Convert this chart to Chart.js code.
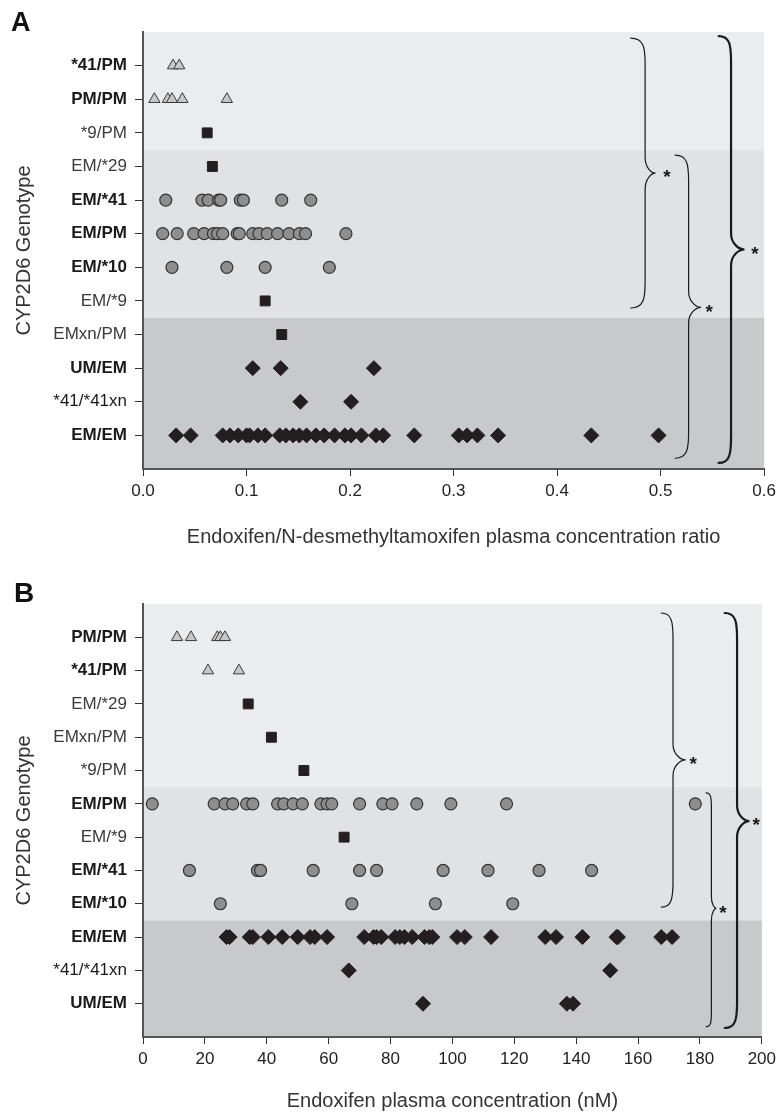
<!DOCTYPE html>
<html><head><meta charset="utf-8">
<script src="https://cdn.jsdelivr.net/npm/chart.js@4.4.0/dist/chart.umd.min.js"></script>
<style>html,body{margin:0;padding:0;background:#fff;}canvas{display:block;}</style>
</head><body>
<canvas id="cA" width="781" height="560"></canvas>
<canvas id="cB" width="781" height="553"></canvas>
<script>
// ---------- Panel A data: Endoxifen/N-desmethyltamoxifen ratio ----------
const catsA = ['*41/PM','PM/PM','*9/PM','EM/*29','EM/*41','EM/PM','EM/*10','EM/*9','EMxn/PM','UM/EM','*41/*41xn','EM/EM'];
const ratio_41PM = [0.029, 0.035];
const ratio_PMPM = [0.011, 0.024, 0.028, 0.038, 0.081];
const ratio_9PM = [0.062];
const ratio_EM29 = [0.067];
const ratio_EM41 = [0.022, 0.057, 0.063, 0.073, 0.075, 0.094, 0.097, 0.134, 0.162];
const ratio_EMPM = [0.019, 0.033, 0.049, 0.059, 0.068, 0.072, 0.077, 0.091, 0.093, 0.106, 0.112, 0.120, 0.130, 0.141, 0.151, 0.157, 0.196];
const ratio_EM10 = [0.028, 0.081, 0.118, 0.180];
const ratio_EM9 = [0.118];
const ratio_EMxnPM = [0.134];
const ratio_UMEM = [0.106, 0.133, 0.223];
const ratio_41_41xn = [0.152, 0.201];
const ratio_EMEM = [0.032, 0.046, 0.077, 0.084, 0.092, 0.100, 0.103, 0.111, 0.118, 0.132, 0.138, 0.145, 0.151, 0.158, 0.167, 0.175, 0.185, 0.195, 0.201, 0.211, 0.225, 0.232, 0.262, 0.305, 0.313, 0.323, 0.343, 0.433, 0.498];
const ticksA = [0, 0.1, 0.2, 0.3, 0.4, 0.5, 0.6];

// ---------- Panel B data: Endoxifen plasma concentration (nM) ----------
const catsB = ['PM/PM','*41/PM','EM/*29','EMxn/PM','*9/PM','EM/PM','EM/*9','EM/*41','EM/*10','EM/EM','*41/*41xn','UM/EM'];
const conc_PMPM = [11, 15.5, 24, 25, 26.5];
const conc_41PM = [21, 31];
const conc_EM29 = [34];
const conc_EMxnPM = [41.5];
const conc_9PM = [52];
const conc_EMPM = [3, 23, 26.5, 29, 33.5, 35.5, 43.5, 45.5, 48.5, 51.5, 57.5, 59.5, 61, 70, 77.5, 80.5, 88.5, 99.5, 117.5, 178.5];
const conc_EM9 = [65];
const conc_EM41 = [15, 37, 38, 55, 70, 75.5, 97, 111.5, 128, 145];
const conc_EM10 = [25, 67.5, 94.5, 119.5];
const conc_EMEM = [27, 28, 34.5, 35.5, 40.5, 45, 50, 54, 55.5, 59.5, 71.5, 74.5, 75.5, 77, 81.5, 83, 84.5, 87, 91, 92.5, 93.5, 101.5, 104, 112.5, 130, 133.5, 142, 153, 153.5, 167.5, 171];
const conc_41_41xn = [66.5, 151];
const conc_UMEM = [90.5, 137, 139];
const ticksB = [0, 20, 40, 60, 80, 100, 120, 140, 160, 180, 200];

// significance braces (data units: x value, y category position)
const bracesA = [
  {spine:0.485, hook:0.471, tip:0.495, top:0.18, mid:4.2, bot:8.21, star:0.506},
  {spine:0.527, hook:0.514, tip:0.539, top:3.66, mid:8.19, bot:12.68, star:0.547},
  {spine:0.568, hook:0.556, tip:0.581, top:0.12, mid:6.47, bot:12.82, star:0.591, thick:true}
];
const bracesB = [
  {spine:171.3, hook:167.5, tip:175.4, top:0.27, mid:4.68, bot:9.1, star:177.8},
  {spine:183.7, hook:182.0, tip:185.3, top:5.67, mid:9.14, bot:12.69, star:187.4, thin:true},
  {spine:192.0, hook:188.0, tip:196.0, top:0.27, mid:6.52, bot:12.73, star:198.2, thick:true}
];

// ---------- styles ----------
const FONT = '"Liberation Sans", Arial, Helvetica, sans-serif';
const boldCats = ['*41/PM','PM/PM','EM/*41','EM/PM','EM/*10','UM/EM','EM/EM'];
const darkCats = ['*41/*41xn'];
const markers = {
  tri:  {pointStyle:'triangle', pointRadius:6.5, backgroundColor:'#c8c8c8', borderColor:'#3a3a3a', borderWidth:1},
  sq:   {pointStyle:'rect', pointRadius:7, backgroundColor:'#231f20', borderColor:'#231f20', borderWidth:1},
  circ: {pointStyle:'circle', pointRadius:6, backgroundColor:'#8e8e8e', borderColor:'#333333', borderWidth:1.2},
  dia:  {pointStyle:'rectRot', pointRadius:7.5, backgroundColor:'#231f20', borderColor:'#231f20', borderWidth:1}
};
const markerOf = {
  '*41/PM':'tri','PM/PM':'tri','*9/PM':'sq','EM/*29':'sq','EM/*9':'sq','EMxn/PM':'sq',
  'EM/*41':'circ','EM/PM':'circ','EM/*10':'circ','UM/EM':'dia','*41/*41xn':'dia','EM/EM':'dia'
};

const seriesA = {'*41/PM':ratio_41PM,'PM/PM':ratio_PMPM,'*9/PM':ratio_9PM,'EM/*29':ratio_EM29,'EM/*41':ratio_EM41,'EM/PM':ratio_EMPM,'EM/*10':ratio_EM10,'EM/*9':ratio_EM9,'EMxn/PM':ratio_EMxnPM,'UM/EM':ratio_UMEM,'*41/*41xn':ratio_41_41xn,'EM/EM':ratio_EMEM};
const seriesB = {'PM/PM':conc_PMPM,'*41/PM':conc_41PM,'EM/*29':conc_EM29,'EMxn/PM':conc_EMxnPM,'*9/PM':conc_9PM,'EM/PM':conc_EMPM,'EM/*9':conc_EM9,'EM/*41':conc_EM41,'EM/*10':conc_EM10,'EM/EM':conc_EMEM,'*41/*41xn':conc_41_41xn,'UM/EM':conc_UMEM};

function buildDatasets(cats, series) {
  const order = ['circ','dia','sq','tri'];
  return order.map(m => {
    const data = [];
    cats.forEach((c, i) => { if (markerOf[c] === m) series[c].forEach(v => data.push({x:v, y:i+1})); });
    return Object.assign({label:m, data, showLine:false, pointHoverRadius:0}, markers[m]);
  });
}

function drawBrace(ctx, xs, xh, xt, yT, yM, yB, rEnd, rMid) {
  ctx.beginPath();
  ctx.moveTo(xh, yT);
  ctx.bezierCurveTo(xs - (xs - xh) * 0.1, yT, xs, yT + rEnd * 0.35, xs, yT + rEnd);
  ctx.lineTo(xs, yM - rMid);
  ctx.bezierCurveTo(xs, yM - rMid * 0.35, xt - (xt - xs) * 0.4, yM, xt, yM);
  ctx.bezierCurveTo(xt - (xt - xs) * 0.4, yM, xs, yM + rMid * 0.35, xs, yM + rMid);
  ctx.lineTo(xs, yB - rEnd);
  ctx.bezierCurveTo(xs, yB - rEnd * 0.35, xs - (xs - xh) * 0.1, yB, xh, yB);
  ctx.stroke();
}

function catName(cats, c) {
  const t = c && c.tick;
  if (!t) return null;
  return cats[Math.round(t.value) - 1] || null;
}

function makeChart(id, cats, series, xmin, xmax, ticks, fmt, xTitle, bands, braces, letter, geom) {
  const bandPlugin = {
    id:'bands',
    beforeDraw(chart) {
      const {ctx, chartArea:a} = chart;
      const y = chart.scales.y;
      ctx.save();
      bands.forEach(b => {
        const y0 = y.getPixelForValue(b[0]), y1 = y.getPixelForValue(b[1]);
        ctx.fillStyle = b[2];
        ctx.fillRect(a.left, y0, a.right - a.left, y1 - y0);
      });
      ctx.fillStyle = '#111';
      ctx.font = 'bold ' + geom.letterSize + 'px ' + FONT;
      ctx.textBaseline = 'alphabetic';
      ctx.fillText(letter, geom.letterX, geom.letterY);
      ctx.restore();
    }
  };
  const bracePlugin = {
    id:'braces',
    afterDatasetsDraw(chart) {
      const {ctx} = chart;
      const x = chart.scales.x, y = chart.scales.y;
      ctx.save();
      ctx.strokeStyle = '#1a1a1a';
      ctx.lineCap = 'round';
      braces.forEach(b => {
        ctx.lineWidth = b.thick ? 2.2 : 1.2;
        const rEnd = b.thin ? 14 : 26, rMid = b.thin ? 12 : 16;
        drawBrace(ctx, x.getPixelForValue(b.spine), x.getPixelForValue(b.hook), x.getPixelForValue(b.tip),
          y.getPixelForValue(b.top), y.getPixelForValue(b.mid), y.getPixelForValue(b.bot), rEnd, rMid);
        ctx.fillStyle = '#1a1a1a';
        ctx.font = 'bold 19px ' + FONT;
        ctx.textAlign = 'center';
        ctx.textBaseline = 'middle';
        ctx.fillText('*', x.getPixelForValue(b.star), y.getPixelForValue(b.mid) + 5);
      });
      ctx.restore();
    }
  };
  return new Chart(document.getElementById(id), {
    type:'scatter',
    data:{datasets: buildDatasets(cats, series)},
    plugins:[bandPlugin, bracePlugin],
    options:{
      responsive:false, animation:false, devicePixelRatio:1,
      layout:{padding:{top:geom.top, right:geom.right, bottom:0, left:0}},
      plugins:{legend:{display:false}, tooltip:{enabled:false}},
      scales:{
        x:{
          type:'linear', min:xmin, max:xmax,
          afterBuildTicks: s => { s.ticks = ticks.map(v => ({value:v})); },
          afterFit: s => { s.height = geom.xh; },
          ticks:{callback: v => fmt(v), font:{family:FONT, size:17}, color:'#222', padding:5, maxRotation:0},
          grid:{drawOnChartArea:false, drawTicks:true, tickLength:7, color:'#333', lineWidth:1},
          border:{display:true, color:'#555', width:2},
          title:{display:true, text:xTitle, font:{family:FONT, size:20}, color:'#333', padding:{top:0, bottom:geom.titleBottom}}
        },
        y:{
          type:'linear', reverse:true, min:0, max:13,
          afterBuildTicks: s => { s.ticks = cats.map((c, i) => ({value:i+1})); },
          afterFit: s => { s.width = 143; },
          ticks:{
            autoSkip:false, padding:8,
            callback: v => cats[Math.round(v)-1] || '',
            font: c => { const n = catName(cats, c); return {family:FONT, size:17, weight: (n && boldCats.includes(n)) ? 'bold' : 'normal'}; },
            color: c => { const n = catName(cats, c); return (n && (boldCats.includes(n) || darkCats.includes(n))) ? '#1a1a1a' : '#3a3a3a'; }
          },
          grid:{drawOnChartArea:false, drawTicks:true, tickLength:8, color:'#333', lineWidth:1},
          border:{display:true, color:'#555', width:2},
          title:{display:true, text:'CYP2D6 Genotype', font:{family:FONT, size:20}, color:'#333', padding:{top:12, bottom:0}}
        }
      }
    }
  });
}

makeChart('cA', catsA, seriesA, 0, 0.6, ticksA, v => v.toFixed(1),
  'Endoxifen/N-desmethyltamoxifen plasma concentration ratio',
  [[0, 3.5, '#ebecee'], [3.5, 8.5, '#e1e2e4'], [8.5, 13, '#c8c9cb']],
  bracesA, 'A', {top:32, right:14, xh:91, titleBottom:11, letterSize:27, letterX:11, letterY:31});

makeChart('cB', catsB, seriesB, 0, 200, ticksB, v => String(v),
  'Endoxifen plasma concentration (nM)',
  [[0, 5.5, '#ebecee'], [5.5, 9.5, '#e1e2e4'], [9.5, 13, '#c8c9cb']],
  bracesB, 'B', {top:44, right:17, xh:76, titleBottom:0, letterSize:28, letterX:14, letterY:42});
</script>
</body></html>
